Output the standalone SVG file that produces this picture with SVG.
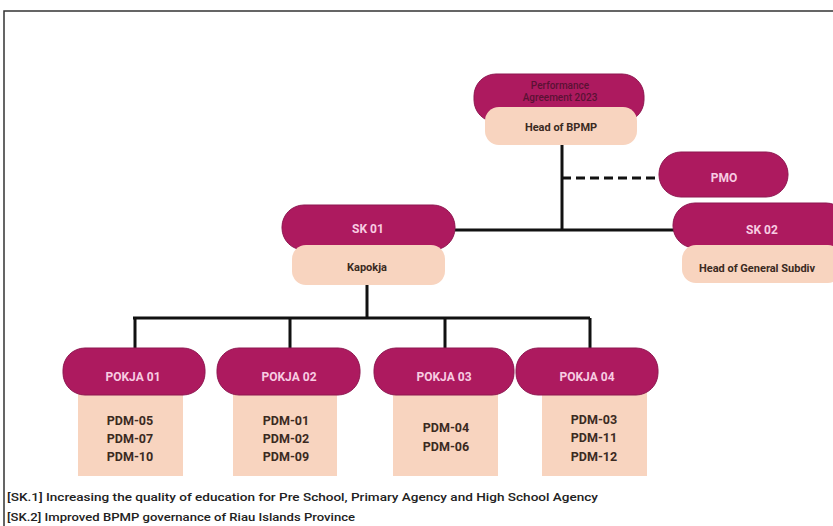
<svg xmlns="http://www.w3.org/2000/svg" width="833" height="526" viewBox="0 0 833 526">
<style>
.pill{fill:#ad1a5f;stroke:#8e1650;stroke-width:1}
.peach{fill:#f8d4bf}
.pt{font-family:Roboto,"Liberation Sans",sans-serif;font-weight:bold;font-size:12px;fill:#f8cce2;text-anchor:middle}
.bt{font-family:Roboto,"Liberation Sans",sans-serif;font-weight:bold;font-size:11px;fill:#3b2a22;text-anchor:middle}
.dt{font-family:Roboto,"Liberation Sans",sans-serif;font-weight:bold;font-size:12.5px;fill:#3b2a22;text-anchor:middle}
.at{font-family:Roboto,"Liberation Sans",sans-serif;font-weight:500;font-size:10px;fill:#5a1234;text-anchor:middle}
.ln{stroke:#111;stroke-width:3;fill:none}
.ft{font-family:Roboto,"Liberation Sans",sans-serif;font-weight:500;font-size:10px;fill:#222}
</style>
<rect x="0" y="0" width="833" height="526" fill="#ffffff"/>
<path d="M4,526 V11 H833" fill="none" stroke="#333" stroke-width="1.5"/>
<g id="connectors">
<path class="ln" d="M562,145 V230"/>
<path class="ln" d="M562,178 H660" stroke-dasharray="9,5"/>
<path class="ln" d="M455,230 H675"/>
<path class="ln" d="M367,285 V318"/>
<path class="ln" d="M133,318 H590"/>
<path class="ln" d="M135,318 V349 M290,318 V349 M445,318 V349 M590,318 V349"/>
</g>
<g id="performance">
<rect class="pill" x="474" y="74" width="170" height="48" rx="22"/>
<text class="at" x="560" y="89">Performance</text>
<text class="at" x="560" y="101">Agreement 2023</text>
<rect class="peach" x="485" y="107" width="152" height="38" rx="14"/>
<text class="bt" x="561" y="131">Head of BPMP</text>
</g>
<g id="pmo">
<rect class="pill" x="659" y="152" width="129" height="45" rx="22"/>
<text class="pt" x="724" y="182">PMO</text>
</g>
<g id="sk02">
<rect class="pill" x="673" y="203" width="175" height="45" rx="22"/>
<text class="pt" x="762" y="234">SK 02</text>
<rect class="peach" x="682" y="245" width="160" height="38" rx="14"/>
<text class="bt" x="757" y="272">Head of General Subdiv</text>
</g>
<g id="sk01">
<rect class="pill" x="282" y="205" width="173" height="45" rx="22"/>
<text class="pt" x="368" y="233">SK 01</text>
<rect class="peach" x="292" y="245" width="153" height="40" rx="14"/>
<text class="bt" x="367" y="271">Kapokja</text>
</g>
<g id="pokja01">
<rect class="peach" x="78" y="388" width="105" height="88"/>
<rect class="pill" x="63" y="348" width="142" height="47" rx="22"/>
<text class="pt" x="133" y="381">POKJA 01</text>
<text class="dt" x="130" y="425">PDM-05</text>
<text class="dt" x="130" y="443">PDM-07</text>
<text class="dt" x="130" y="461">PDM-10</text>
</g>
<g id="pokja02">
<rect class="peach" x="233" y="388" width="104" height="88"/>
<rect class="pill" x="217" y="348" width="143" height="47" rx="22"/>
<text class="pt" x="289" y="381">POKJA 02</text>
<text class="dt" x="286" y="425">PDM-01</text>
<text class="dt" x="286" y="443">PDM-02</text>
<text class="dt" x="286" y="461">PDM-09</text>
</g>
<g id="pokja03">
<rect class="peach" x="393" y="388" width="105" height="88"/>
<rect class="pill" x="374" y="348" width="140" height="47" rx="22"/>
<text class="pt" x="444" y="381">POKJA 03</text>
<text class="dt" x="446" y="432">PDM-04</text>
<text class="dt" x="446" y="451">PDM-06</text>
</g>
<g id="pokja04">
<rect class="peach" x="542" y="388" width="105" height="88"/>
<rect class="pill" x="516" y="348" width="142" height="47" rx="22"/>
<text class="pt" x="587" y="381">POKJA 04</text>
<text class="dt" x="594" y="424">PDM-03</text>
<text class="dt" x="594" y="442">PDM-11</text>
<text class="dt" x="594" y="461">PDM-12</text>
</g>
<g id="legend">
<text class="ft" x="7" y="501" textLength="591" lengthAdjust="spacingAndGlyphs">[SK.1]  Increasing the quality of education for Pre School, Primary Agency and High School Agency</text>
<text class="ft" x="7" y="521" textLength="348" lengthAdjust="spacingAndGlyphs">[SK.2]  Improved BPMP governance of Riau Islands Province</text>
</g>
</svg>
